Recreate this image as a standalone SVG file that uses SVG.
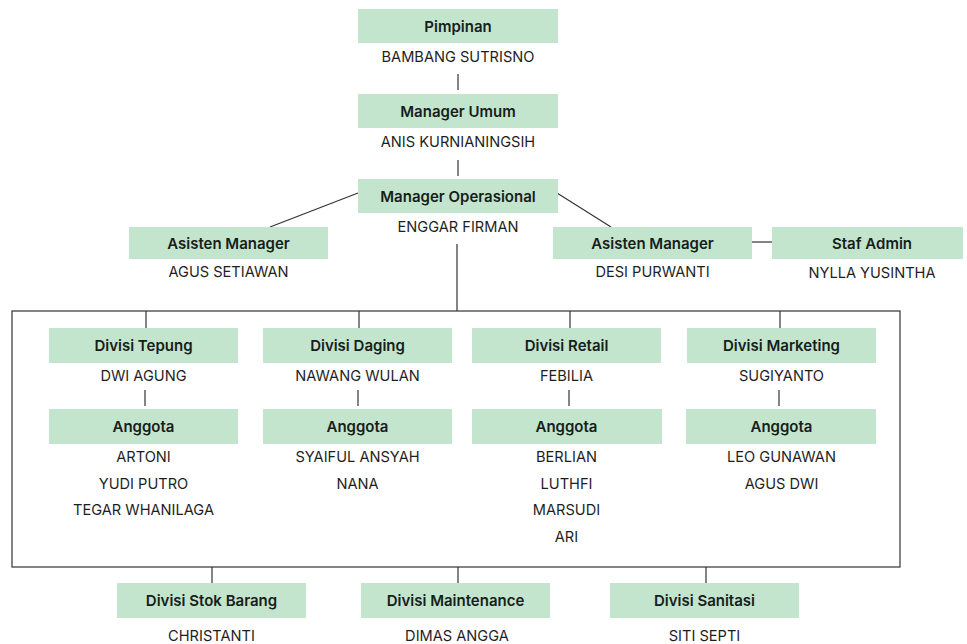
<svg xmlns="http://www.w3.org/2000/svg" width="967" height="644" viewBox="0 0 967 644">
  <style>
    .box { fill: #c4e5cd; }
    .title { font-family: Inter, "Noto Sans", sans-serif; font-size: 15px; font-weight: 600; fill: #16201a; text-anchor: middle; dominant-baseline: central; }
    .name { font-family: Inter, "Noto Sans", sans-serif; font-size: 14.6px; font-weight: 400; fill: #1e1e1e; text-anchor: middle; dominant-baseline: central; }
    .line { stroke: #333; stroke-width: 1.2; fill: none; }
  </style>
  <rect width="967" height="644" fill="#ffffff"/>

  <!-- connectors -->
  <g id="connectors">
    <line class="line" x1="458" y1="74" x2="458" y2="90"/>
    <line class="line" x1="458" y1="160" x2="458" y2="176"/>
    <line class="line" x1="270" y1="227" x2="358" y2="193"/>
    <line class="line" x1="557" y1="193" x2="611" y2="227"/>
    <line class="line" x1="752" y1="242" x2="772" y2="242"/>
    <line class="line" x1="457" y1="244" x2="457" y2="311"/>
    <rect class="line" x="12" y="311" width="888" height="256"/>
    <line class="line" x1="146" y1="311" x2="146" y2="328"/>
    <line class="line" x1="359" y1="311" x2="359" y2="328"/>
    <line class="line" x1="570" y1="311" x2="570" y2="328"/>
    <line class="line" x1="780" y1="311" x2="780" y2="328"/>
    <line class="line" x1="145" y1="390" x2="145" y2="406"/>
    <line class="line" x1="358" y1="390" x2="358" y2="406"/>
    <line class="line" x1="569" y1="390" x2="569" y2="406"/>
    <line class="line" x1="779" y1="390" x2="779" y2="406"/>
    <line class="line" x1="212" y1="567" x2="212" y2="583"/>
    <line class="line" x1="458" y1="567" x2="458" y2="583"/>
    <line class="line" x1="706" y1="567" x2="706" y2="583"/>
  </g>

  <!-- top management -->
  <g id="pimpinan">
    <rect class="box" x="358" y="9" width="200" height="34"/>
    <text class="title" x="458" y="26">Pimpinan</text>
    <text class="name" x="458" y="57">BAMBANG SUTRISNO</text>
  </g>
  <g id="manager-umum">
    <rect class="box" x="358" y="94" width="200" height="34"/>
    <text class="title" x="458" y="111">Manager Umum</text>
    <text class="name" x="458" y="142">ANIS KURNIANINGSIH</text>
  </g>
  <g id="manager-operasional">
    <rect class="box" x="358" y="179" width="200" height="34"/>
    <text class="title" x="458" y="196">Manager Operasional</text>
    <text class="name" x="458" y="227">ENGGAR FIRMAN</text>
  </g>
  <g id="asisten-manager-1">
    <rect class="box" x="129" y="227" width="199" height="32"/>
    <text class="title" x="228.5" y="243">Asisten Manager</text>
    <text class="name" x="228.5" y="272">AGUS SETIAWAN</text>
  </g>
  <g id="asisten-manager-2">
    <rect class="box" x="553" y="227" width="199" height="32"/>
    <text class="title" x="652.5" y="243">Asisten Manager</text>
    <text class="name" x="652.5" y="272">DESI PURWANTI</text>
  </g>
  <g id="staf-admin">
    <rect class="box" x="772" y="227" width="191" height="32"/>
    <text class="title" x="872" y="243">Staf Admin</text>
    <text class="name" x="872" y="273">NYLLA YUSINTHA</text>
  </g>

  <!-- divisions inside the frame -->
  <g id="divisi-tepung">
    <rect class="box" x="49" y="328" width="189" height="35"/>
    <text class="title" x="143.5" y="345.5">Divisi Tepung</text>
    <text class="name" x="143.5" y="376">DWI AGUNG</text>
  </g>
  <g id="anggota-tepung">
    <rect class="box" x="49" y="409" width="189" height="35"/>
    <text class="title" x="143.5" y="426.5">Anggota</text>
    <text class="name" x="143.5" y="457">ARTONI</text>
    <text class="name" x="143.5" y="484">YUDI PUTRO</text>
    <text class="name" x="143.5" y="510">TEGAR WHANILAGA</text>
  </g>
  <g id="divisi-daging">
    <rect class="box" x="263" y="328" width="189" height="35"/>
    <text class="title" x="357.5" y="345.5">Divisi Daging</text>
    <text class="name" x="357.5" y="376">NAWANG WULAN</text>
  </g>
  <g id="anggota-daging">
    <rect class="box" x="263" y="409" width="189" height="35"/>
    <text class="title" x="357.5" y="426.5">Anggota</text>
    <text class="name" x="357.5" y="457">SYAIFUL ANSYAH</text>
    <text class="name" x="357.5" y="484">NANA</text>
  </g>
  <g id="divisi-retail">
    <rect class="box" x="472" y="328" width="189" height="35"/>
    <text class="title" x="566.5" y="345.5">Divisi Retail</text>
    <text class="name" x="566.5" y="376">FEBILIA</text>
  </g>
  <g id="anggota-retail">
    <rect class="box" x="472" y="409" width="190" height="35"/>
    <text class="title" x="566.5" y="426.5">Anggota</text>
    <text class="name" x="566.5" y="457">BERLIAN</text>
    <text class="name" x="566.5" y="484">LUTHFI</text>
    <text class="name" x="566.5" y="510">MARSUDI</text>
    <text class="name" x="566.5" y="537">ARI</text>
  </g>
  <g id="divisi-marketing">
    <rect class="box" x="687" y="328" width="189" height="35"/>
    <text class="title" x="781.5" y="345.5">Divisi Marketing</text>
    <text class="name" x="781.5" y="376">SUGIYANTO</text>
  </g>
  <g id="anggota-marketing">
    <rect class="box" x="686" y="409" width="190" height="35"/>
    <text class="title" x="781.5" y="426.5">Anggota</text>
    <text class="name" x="781.5" y="457">LEO GUNAWAN</text>
    <text class="name" x="781.5" y="484">AGUS DWI</text>
  </g>

  <!-- divisions below the frame -->
  <g id="divisi-stok-barang">
    <rect class="box" x="117" y="583" width="189" height="35"/>
    <text class="title" x="211.5" y="600.5">Divisi Stok Barang</text>
    <text class="name" x="211.5" y="636">CHRISTANTI</text>
  </g>
  <g id="divisi-maintenance">
    <rect class="box" x="361" y="583" width="189" height="35"/>
    <text class="title" x="455.5" y="600.5">Divisi Maintenance</text>
    <text class="name" x="457" y="636">DIMAS ANGGA</text>
  </g>
  <g id="divisi-sanitasi">
    <rect class="box" x="610" y="583" width="189" height="35"/>
    <text class="title" x="704.5" y="600.5">Divisi Sanitasi</text>
    <text class="name" x="704.5" y="636">SITI SEPTI</text>
  </g>
</svg>
